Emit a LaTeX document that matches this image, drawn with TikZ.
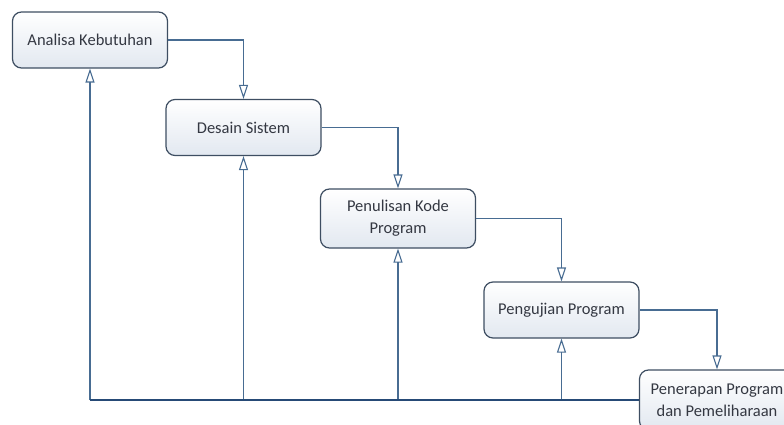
\documentclass[tikz,border=0pt]{standalone}
\usepackage{fontspec}
\setmainfont{Carlito}
\usepackage{xcolor}
\usetikzlibrary{shapes, arrows.meta, positioning, calc}

\definecolor{boxline}{RGB}{62,78,98}
\definecolor{boxfill}{RGB}{226,232,240}
\definecolor{wire}{RGB}{72,108,146}
\definecolor{basewire}{RGB}{38,74,118}
\definecolor{txt}{RGB}{52,56,66}

\begin{document}
\begin{tikzpicture}[
    x=1pt, y=-1pt,
    stage/.style={rectangle, draw=boxline, line width=1.2pt, rounded corners=9pt,
        top color=white, bottom color=boxfill, minimum width=155pt, minimum height=56pt,
        align=center, text=txt, font=\fontsize{16.5}{22}\selectfont},
    line/.style={-{Triangle[open, length=14pt, width=9pt]}, wire, line width=1.1pt},
    back/.style={-{Triangle[open, length=14pt, width=9pt]}, wire, line width=1.1pt},
    base/.style={draw=basewire, line width=2pt}
]
\useasboundingbox (0,0) rectangle (784,425);

% Nodes
\node[stage] (analisa) at (90,40) {Analisa Kebutuhan};
\node[stage] (desain) at (243.5,127.5) {Desain Sistem};
\node[stage, minimum height=59pt] (penulisan) at (398,218.5) {Penulisan Kode\\Program};
\node[stage] (pengujian) at (561.5,310) {Pengujian Program};
\node[stage, minimum height=60pt] (penerapan) at (717,400) {Penerapan Program\\dan Pemeliharaan};

% Forward flow
\draw[line] (analisa.east) -| (desain.north);
\draw[line] (desain.east) -| (penulisan.north);
\draw[line] (penulisan.east) -| (pengujian.north);
\draw[line] (pengujian.east) -| (penerapan.north);

% Feedback
\draw[back] (analisa.south |- penerapan.west) -- (analisa.south);
\draw[back] (desain.south |- penerapan.west) -- (desain.south);
\draw[back] (penulisan.south |- penerapan.west) -- (penulisan.south);
\draw[back] (pengujian.south |- penerapan.west) -- (pengujian.south);
\draw[base] (analisa.south |- penerapan.west) -- (penerapan.west);

\end{tikzpicture}
\end{document}
